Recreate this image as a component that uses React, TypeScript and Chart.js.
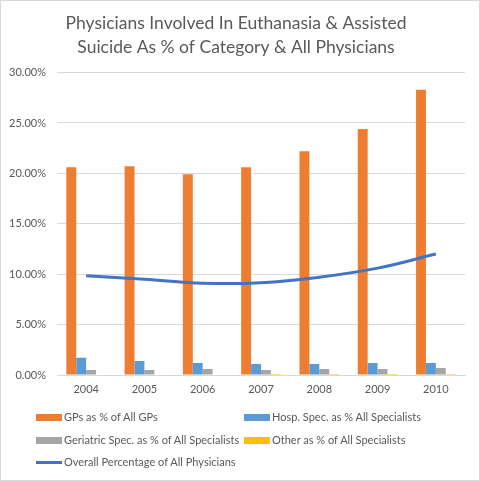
import React, { useEffect, useRef } from "react";
import { Chart, registerables } from "chart.js";

Chart.register(...registerables);

const years = ["2004", "2005", "2006", "2007", "2008", "2009", "2010"];
const gpsPct = [20.6, 20.7, 19.9, 20.6, 22.2, 24.4, 28.3];
const hospSpecPct = [1.7, 1.4, 1.2, 1.1, 1.1, 1.2, 1.2];
const geriatricPct = [0.5, 0.5, 0.6, 0.5, 0.6, 0.6, 0.7];
const otherPct = [0.0, 0.0, 0.0, 0.1, 0.1, 0.1, 0.1];
const overallPct = [9.85, 9.5, 9.1, 9.15, 9.7, 10.6, 12.0];

const seriesNames = [
  "GPs as % of All GPs",
  "Hosp. Spec. as % All Specialists",
  "Geriatric Spec. as % of All Specialists",
  "Other as % of All Specialists",
  "Overall Percentage of All Physicians",
];
const colors = ["#ED7D31", "#5B9BD5", "#A5A5A5", "#FFC000", "#4472C4"];
const FONT = "Lato, 'Open Sans', sans-serif";

export default function App() {
  const ref = useRef<HTMLCanvasElement>(null);
  useEffect(() => {
    if (!ref.current) return;
    const barData = [gpsPct, hospSpecPct, geriatricPct, otherPct];
    const chart = new Chart(ref.current, {
      type: "bar",
      data: {
        labels: years,
        datasets: [
          {
            type: "line",
            label: seriesNames[4],
            data: overallPct,
            borderColor: colors[4],
            backgroundColor: colors[4],
            borderWidth: 3,
            pointRadius: 0,
            tension: 0.4,
            order: 0,
          } as any,
          ...barData.map((d, i) => ({
            type: "bar",
            label: seriesNames[i],
            data: d,
            backgroundColor: colors[i],
            categoryPercentage: 0.68,
            barPercentage: 1,
            order: 1,
          })),
        ],
      },
      options: {
        animation: false,
        responsive: false,
        layout: { padding: { left: 6, right: 14, top: 11, bottom: 81 } },
        plugins: {
          legend: { display: false },
          tooltip: { enabled: false },
          title: {
            display: true,
            text: [
              "Physicians Involved In Euthanasia & Assisted",
              "Suicide As % of Category & All Physicians",
            ],
            color: "#595959",
            font: { family: FONT, size: 17.5, weight: "normal", lineHeight: 1.33 },
            padding: { top: 0, bottom: 14 },
          },
        },
        scales: {
          x: {
            grid: { display: false, drawTicks: false },
            border: { color: "#D9D9D9" },
            ticks: { color: "#595959", font: { family: FONT, size: 11 }, padding: 8 },
            afterFit: (s: any) => {
              s.height = 24;
            },
          },
          y: {
            min: 0,
            max: 30,
            grid: { color: "#D9D9D9", drawTicks: false },
            border: { display: false },
            ticks: {
              stepSize: 5,
              color: "#595959",
              font: { family: FONT, size: 11 },
              padding: 11,
              callback: (v: any) => Number(v).toFixed(2) + "%",
            },
            afterFit: (s: any) => {
              s.width = 50;
            },
          },
        },
      },
    });
    return () => chart.destroy();
  }, []);

  const legendItem = (i: number, x: number, y: number) => (
    <div
      key={i}
      style={{
        position: "absolute",
        left: x,
        top: y,
        display: "flex",
        alignItems: "center",
        fontFamily: FONT,
        fontSize: 11,
        color: "#595959",
        whiteSpace: "nowrap",
        lineHeight: "14px",
      }}
    >
      <span
        style={{
          display: "inline-block",
          width: 26,
          height: i === 4 ? 3 : 7,
          background: colors[i],
          marginRight: 2,
        }}
      />
      {seriesNames[i]}
    </div>
  );

  return (
    <div
      style={{
        position: "fixed",
        left: 0,
        top: 0,
        width: 480,
        height: 481,
        boxSizing: "border-box",
        border: "1px solid #D9D9D9",
        background: "#fff",
        overflow: "hidden",
      }}
    >
      <canvas ref={ref} width={478} height={479} style={{ display: "block" }} />
      {legendItem(0, 35, 409)}
      {legendItem(1, 243, 409)}
      {legendItem(2, 35, 432)}
      {legendItem(3, 243, 432)}
      {legendItem(4, 35, 454)}
    </div>
  );
}
